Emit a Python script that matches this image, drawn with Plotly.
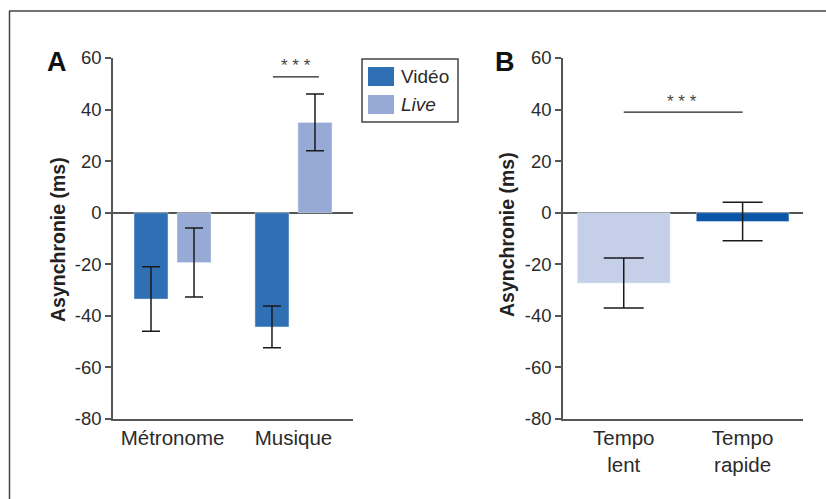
import plotly.graph_objects as go

# ---- data ----
cats_a = ["Métronome", "Musique"]
video_vals = [-33.5, -44.3]
video_err = [12.5, 8.1]
live_vals = [-19.3, 35.0]
live_err = [13.4, 11.0]

cats_b = ["Tempo<br>lent", "Tempo<br>rapide"]
tempo_vals = [-27.3, -3.4]
tempo_err = [9.7, 7.5]

y_ticks = [60, 40, 20, 0, -20, -40, -60, -80]
y_ticktext = ["60", "40", "20", "0", "-20", "-40", "-60", "-80"]

C_VIDEO = "#2F6FB4"
C_LIVE = "#97AAD5"
C_LENT = "#C5CFE8"
C_RAPIDE = "#0A57A7"
AX = "#555555"
TXT = "#2b2b2b"
FONT = "Liberation Sans, Arial, sans-serif"

W, H = 826, 499
def px(x): return x / W
def py(y): return 1 - y / H

fig = go.Figure()

fig.add_trace(go.Bar(
    x=cats_a, y=video_vals, name="Vidéo", marker_color=C_VIDEO,
    error_y=dict(type="data", array=video_err, color="#1a1a1a", thickness=1.5, width=9),
    xaxis="x", yaxis="y", showlegend=False))
fig.add_trace(go.Bar(
    x=cats_a, y=live_vals, name="Live", marker_color=C_LIVE,
    error_y=dict(type="data", array=live_err, color="#1a1a1a", thickness=1.5, width=9),
    xaxis="x", yaxis="y", showlegend=False))
fig.add_trace(go.Bar(
    x=cats_b, y=tempo_vals, marker_color=[C_LENT, C_RAPIDE], width=0.78,
    error_y=dict(type="data", array=tempo_err, color="#1a1a1a", thickness=1.5, width=20),
    xaxis="x2", yaxis="y2", showlegend=False))

yax = dict(range=[-80, 60], tickvals=y_ticks, ticktext=y_ticktext, ticks="outside", ticklen=6,
           tickwidth=1.5, tickcolor=AX, showline=True, linecolor=AX, linewidth=1.5, showgrid=False,
           zeroline=True, zerolinecolor=AX, zerolinewidth=1.5, automargin=False,
           tickfont=dict(family=FONT, size=18.5, color=TXT), fixedrange=True)
xax = dict(showline=True, linecolor=AX, linewidth=1.5, showgrid=False, ticks="", automargin=False,
           tickfont=dict(family=FONT, size=20.5, color=TXT), fixedrange=True)

fig.update_layout(
    width=W, height=H, margin=dict(l=0, r=0, t=0, b=0, autoexpand=False),
    paper_bgcolor="white", plot_bgcolor="white",
    barmode="group", bargap=0.289, bargroupgap=0.209,
    xaxis=dict(xax, domain=[px(113), px(353)], range=[-0.492, 1.492], anchor="y"),
    yaxis=dict(yax, domain=[py(419), py(58)], anchor="x"),
    xaxis2=dict(xax, domain=[px(563), px(803)], range=[-0.511, 1.508], anchor="y2"),
    yaxis2=dict(yax, domain=[py(419), py(58)], anchor="x2"),
)

shapes = []
anns = []
# outer frame
shapes.append(dict(type="line", xref="paper", yref="paper", x0=px(9), x1=1.01, y0=py(11), y1=py(11),
                   line=dict(color="#444", width=1.5)))
shapes.append(dict(type="line", xref="paper", yref="paper", x0=px(9.5), x1=px(9.5), y0=py(11), y1=-0.01,
                   line=dict(color="#444", width=1.5)))
# significance lines
shapes.append(dict(type="line", xref="x", yref="y", x0=1 - 0.17, x1=1 + 0.21, y0=52.7, y1=52.7,
                   line=dict(color="#222", width=1.3)))
shapes.append(dict(type="line", xref="x2", yref="y2", x0=0, x1=1, y0=39, y1=39,
                   line=dict(color="#222", width=1.3)))
anns.append(dict(xref="x", yref="y", x=1.02, y=57.0, text="* * *", showarrow=False,
                 xanchor="center", yanchor="middle",
                 font=dict(family=FONT, size=17, color="#444")))
anns.append(dict(xref="x2", yref="y2", x=0.49, y=43.2, text="* * *", showarrow=False,
                 xanchor="center", yanchor="middle",
                 font=dict(family=FONT, size=17, color="#444")))

# legend
shapes.append(dict(type="rect", xref="paper", yref="paper", x0=px(362), x1=px(458), y0=py(59), y1=py(122),
                   line=dict(color="#444", width=1.5), fillcolor="white"))
shapes.append(dict(type="rect", xref="paper", yref="paper", x0=px(368), x1=px(394), y0=py(67), y1=py(86),
                   line=dict(width=0), fillcolor=C_VIDEO))
shapes.append(dict(type="rect", xref="paper", yref="paper", x0=px(368), x1=px(394), y0=py(95), y1=py(114),
                   line=dict(width=0), fillcolor=C_LIVE))
anns.append(dict(xref="paper", yref="paper", x=px(399), y=py(76.5), xanchor="left", yanchor="middle",
                 text="Vidéo", showarrow=False, font=dict(family=FONT, size=19, color=TXT)))
anns.append(dict(xref="paper", yref="paper", x=px(399), y=py(104.5), xanchor="left", yanchor="middle",
                 text="<i>Live</i>", showarrow=False, font=dict(family=FONT, size=19, color=TXT)))

# panel letters
anns.append(dict(xref="paper", yref="paper", x=px(57), y=py(62), text="<b>A</b>", showarrow=False,
                 xanchor="center", yanchor="middle",
                 font=dict(family=FONT, size=27, color="#111")))
anns.append(dict(xref="paper", yref="paper", x=px(505), y=py(62), text="<b>B</b>", showarrow=False,
                 xanchor="center", yanchor="middle",
                 font=dict(family=FONT, size=27, color="#111")))
# y titles
anns.append(dict(xref="paper", yref="paper", x=px(58), y=py(240), text="<b>Asynchronie (ms)</b>",
                 xanchor="center", yanchor="middle",
                 textangle=-90, showarrow=False, font=dict(family=FONT, size=19.5, color="#222")))
anns.append(dict(xref="paper", yref="paper", x=px(507), y=py(235), text="<b>Asynchronie (ms)</b>",
                 xanchor="center", yanchor="middle",
                 textangle=-90, showarrow=False, font=dict(family=FONT, size=19.5, color="#222")))

fig.update_layout(shapes=shapes, annotations=anns)
fig.write_html("out.html", config={"displayModeBar": False},
               post_script="document.body.style.margin='0';")
